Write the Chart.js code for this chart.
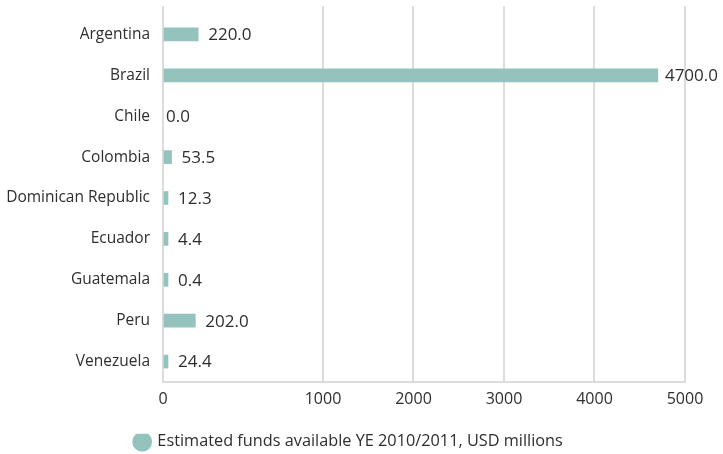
<!DOCTYPE html>
<html>
<head>
<meta charset="utf-8">
<script src="https://cdn.jsdelivr.net/npm/chart.js@4.4.1/dist/chart.umd.min.js"></script>
<style>
  html, body { margin: 0; padding: 0; background: #fff; }
  #wrap { width: 723px; height: 454px; }
</style>
</head>
<body>
<div id="wrap"><canvas id="funds-chart"></canvas></div>
<script>
// Countries and estimated funds (USD millions)
const countries = ['Argentina', 'Brazil', 'Chile', 'Colombia', 'Dominican Republic', 'Ecuador', 'Guatemala', 'Peru', 'Venezuela'];
const funds = [220.0, 4700.0, 0.0, 53.5, 12.3, 4.4, 0.4, 202.0, 24.4];
const xTicks = [0, 1000, 2000, 3000, 4000, 5000];
const seriesLabel = 'Estimated funds available YE 2010/2011, USD millions';

const BAR_COLOR = '#94c3be';
const GRID_COLOR = '#dcdcdc';
const TEXT_COLOR = '#2e2e2e';
const FONT = '"Open Sans", sans-serif';

// First 1000 gets a wider share of the axis so the small values stay readable
const BREAK_VALUE = 1000;
const BREAK_AT = 0.3065;

class SplitLinearScale extends Chart.LinearScale {
    toDecimal(value) {
        const min = this.min, max = this.max;
        if (value <= BREAK_VALUE) {
            return (value - min) / (BREAK_VALUE - min) * BREAK_AT;
        }
        return BREAK_AT + (value - BREAK_VALUE) / (max - BREAK_VALUE) * (1 - BREAK_AT);
    }
    fromDecimal(dec) {
        const min = this.min, max = this.max;
        if (dec <= BREAK_AT) {
            return min + dec / BREAK_AT * (BREAK_VALUE - min);
        }
        return BREAK_VALUE + (dec - BREAK_AT) / (1 - BREAK_AT) * (max - BREAK_VALUE);
    }
    getPixelForValue(value) {
        return this.getPixelForDecimal(this.toDecimal(value));
    }
    getValueForPixel(pixel) {
        return this.fromDecimal(this.getDecimalForPixel(pixel));
    }
}
SplitLinearScale.id = 'splitLinear';
SplitLinearScale.defaults = Chart.LinearScale.defaults;
Chart.register(SplitLinearScale);

function useFixedTicks(scale) {
    scale.ticks = xTicks.map(v => ({ value: v }));
}

// Value labels to the right of each bar
const valueLabels = {
    id: 'valueLabels',
    afterDatasetsDraw(chart) {
        const ctx = chart.ctx;
        const meta = chart.getDatasetMeta(0);
        ctx.save();
        ctx.font = '17px ' + FONT;
        ctx.fillStyle = TEXT_COLOR;
        ctx.textBaseline = 'middle';
        ctx.textAlign = 'left';
        meta.data.forEach((bar, i) => {
            const value = funds[i];
            const text = value.toFixed(1);
            let x = value > 0 ? bar.x + 10 : bar.base + 2;
            x = Math.min(x, chart.width - 5 - ctx.measureText(text).width);
            ctx.fillText(text, x, bar.y + 1);
        });
        ctx.restore();
    }
};

const ctx = document.getElementById('funds-chart').getContext('2d');

const chart = new Chart(ctx, {
    type: 'bar',
    data: {
        labels: countries,
        datasets: [{
            label: seriesLabel,
            data: funds,
            backgroundColor: c => funds[c.dataIndex] > 0 ? BAR_COLOR : 'rgba(0,0,0,0)',
            borderWidth: 0,
            barThickness: 13,
            minBarLength: 5
        }]
    },
    options: {
        indexAxis: 'y',
        responsive: true,
        maintainAspectRatio: false,
        animation: false,
        layout: {
            padding: { top: 6, right: 25, bottom: -6, left: 0 }
        },
        plugins: {
            legend: {
                position: 'bottom',
                labels: {
                    usePointStyle: true,
                    pointStyle: 'circle',
                    boxWidth: 14,
                    boxHeight: 14,
                    padding: 0,
                    color: TEXT_COLOR,
                    font: { family: FONT, size: 16.3 }
                }
            },
            tooltip: { enabled: false }
        },
        scales: {
            x: {
                type: 'splitLinear',
                position: 'bottom',
                min: 0,
                max: 5000,
                afterBuildTicks: useFixedTicks,
                afterFit: s => { s.height = 51.7; },
                grid: {
                    color: GRID_COLOR,
                    lineWidth: 2,
                    drawTicks: false
                },
                border: { color: GRID_COLOR, width: 2 },
                ticks: {
                    padding: 8,
                    color: TEXT_COLOR,
                    font: { family: FONT, size: 16 },
                    callback: v => String(v)
                }
            },
            // short grid stubs above the plot
            xTop: {
                type: 'splitLinear',
                axis: 'x',
                position: 'top',
                min: 0,
                max: 5000,
                afterBuildTicks: useFixedTicks,
                grid: {
                    color: GRID_COLOR,
                    lineWidth: 2,
                    drawOnChartArea: false,
                    drawTicks: true,
                    tickLength: 8
                },
                border: { display: false },
                ticks: { display: false }
            },
            y: {
                // labels sit inside the category bands, no extra room needed
                afterFit: s => {
                    s.width = 163;
                    s.paddingTop = 0;
                    s.paddingBottom = 0;
                },
                grid: { display: false, drawTicks: false },
                border: { color: GRID_COLOR, width: 2 },
                ticks: {
                    padding: 13,
                    color: TEXT_COLOR,
                    font: { family: FONT, size: 15.5 }
                }
            },
            // empty gutter on the right of the plot
            yRight: {
                type: 'category',
                axis: 'y',
                position: 'right',
                afterFit: s => {
                    s.width = 13;
                    s.paddingTop = 0;
                    s.paddingBottom = 0;
                },
                grid: { display: false, drawTicks: false },
                border: { display: false },
                ticks: { display: false }
            }
        }
    },
    plugins: [valueLabels]
});
</script>
</body>
</html>
